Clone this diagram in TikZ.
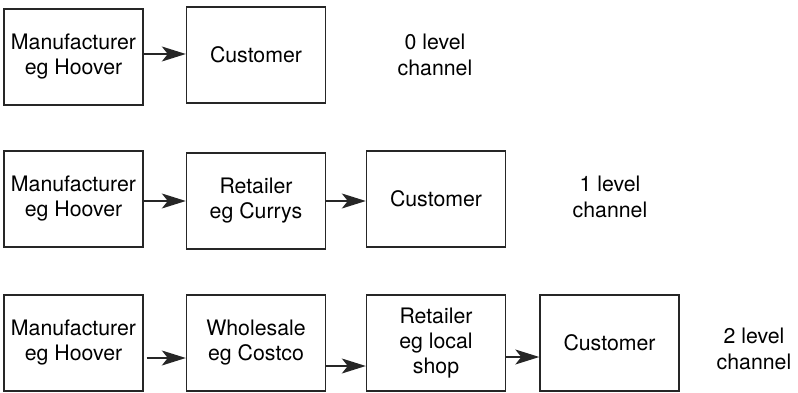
\documentclass[tikz,border=0pt]{standalone}
\usepackage{fontspec}
\setmainfont{TeX Gyre Heros}
\usetikzlibrary{arrows.meta}
\begin{document}
\begin{tikzpicture}[x=1pt,y=-1pt,
  box/.style={draw=black!85,line width=1.4pt,minimum width=139pt,minimum height=96pt,
    inner sep=0pt,align=center,font=\fontsize{21.3}{25}\selectfont},
  lbl/.style={align=center,font=\fontsize{21.3}{26}\selectfont,inner sep=0pt},
  arr/.style={draw=black!85,line width=1.3pt,-{Stealth[length=24pt,width=15pt,inset=6pt]}}]
\useasboundingbox (0,0) rectangle (798,393);
% row 1
\node[box] (m1) at (73.5,57) {Manufacturer\\eg Hoover};
\node[box] (c1) at (256,55) {Customer};
\node[lbl] (l0) at (435,55) {0 level\\channel};
\draw[arr] (m1.east |- 0,54) -- (c1.west |- 0,54);
% row 2
\node[box] (m2) at (73.5,199) {Manufacturer\\eg Hoover};
\node[box] (r2) at (256,201) {Retailer\\eg Currys};
\node[box] (c2) at (436,199) {Customer};
\node[lbl] (l1) at (610,197) {1 level\\channel};
\draw[arr] (m2.east |- 0,201) -- (r2.west |- 0,201);
\draw[arr] (r2.east |- 0,201) -- (c2.west |- 0,201);
% row 3
\node[box] (m3) at (73.5,343) {Manufacturer\\eg Hoover};
\node[box] (w3) at (256,343) {Wholesale\\eg Costco};
\node[box] (r3) at (436,343) {Retailer\\eg local\\shop};
\node[box] (c3) at (609.5,343) {Customer};
\node[lbl] (l2) at (754,349) {2 level\\channel};
\draw[arr] ([xshift=3pt]m3.east |- 0,358) -- (w3.west |- 0,358);
\draw[arr] (w3.east |- 0,366) -- (r3.west |- 0,366);
\draw[arr] (r3.east |- 0,357) -- (c3.west |- 0,357);
\end{tikzpicture}
\end{document}
